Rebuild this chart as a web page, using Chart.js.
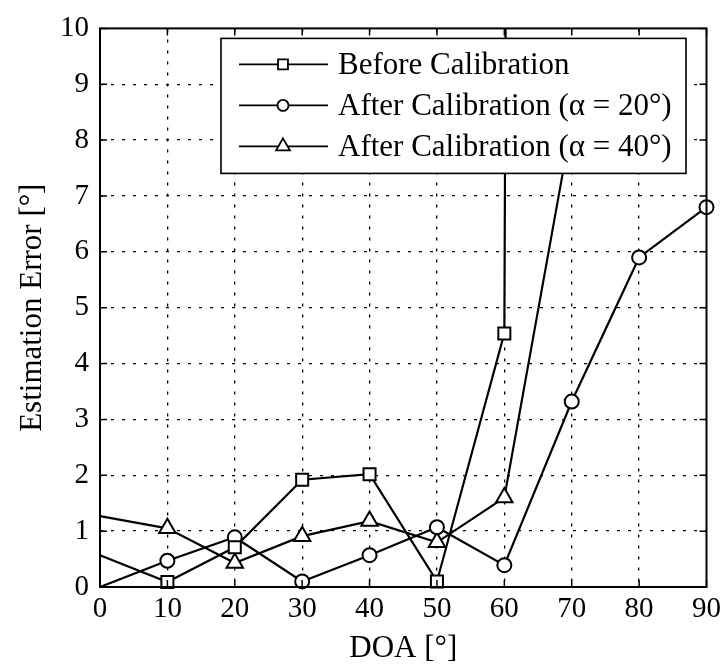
<!DOCTYPE html>
<html>
<head>
<meta charset="utf-8">
<script src="https://cdn.jsdelivr.net/npm/chart.js@4/dist/chart.umd.min.js"></script>
<style>
  html, body { margin: 0; padding: 0; background: #fff; }
</style>
</head>
<body>
<canvas id="chart_canvas" width="726" height="670"></canvas>
<script>
// data
const doa = [0, 10, 20, 30, 40, 50, 60, 70, 80, 90];
const beforeCal = [0.57, 0.09, 0.71, 1.92, 2.02, 0.10, 4.54, 300, null, null];
const after20 = [0.00, 0.47, 0.89, 0.10, 0.57, 1.07, 0.39, 3.32, 5.90, 6.80];
const after40 = [1.27, 1.05, 0.43, 0.91, 1.18, 0.80, 1.60, 8.30, null, null];
const seriesLabels = ["Before Calibration", "After Calibration (\u03b1 = 20\u00b0)", "After Calibration (\u03b1 = 40\u00b0)"];
const markers = ["rect", "circle", "triangle"];
const markerSizes = [8.5, 7, 9.5];

const serif = "'Liberation Serif', 'Times New Roman', serif";
Chart.defaults.font.family = serif;
Chart.defaults.color = "#000";

function makeSet(label, values, i) {
  return {
    label: label,
    data: doa.map((x, k) => ({ x: x, y: values[k] })),
    borderColor: "#000",
    borderWidth: 2.2,
    backgroundColor: "#fff",
    pointStyle: markers[i],
    pointRadius: ctx => ctx.dataIndex === 0 ? 0 : markerSizes[i],
    pointBackgroundColor: "#fff",
    pointBorderColor: "#000",
    pointBorderWidth: 2,
    tension: 0,
    spanGaps: false,
    clip: { left: 10, top: 0, right: 10, bottom: 10 }
  };
}

// frame, inward ticks and the boxed legend inside the plot
const boxLegend = {
  id: "boxLegend",
  afterDatasetsDraw(chart) {
    const ctx = chart.ctx;
    const a = chart.chartArea;
    const xs = chart.scales.x, ys = chart.scales.y;
    ctx.save();
    ctx.strokeStyle = "#000";
    ctx.lineWidth = 1.5;
    ctx.beginPath();
    xs.ticks.forEach(t => {
      const px = xs.getPixelForValue(t.value);
      ctx.moveTo(px, a.bottom); ctx.lineTo(px, a.bottom - 7);
      ctx.moveTo(px, a.top); ctx.lineTo(px, a.top + 7);
    });
    ys.ticks.forEach(t => {
      const py = ys.getPixelForValue(t.value);
      ctx.moveTo(a.left, py); ctx.lineTo(a.left + 7, py);
      ctx.moveTo(a.right, py); ctx.lineTo(a.right - 7, py);
    });
    ctx.stroke();
    ctx.lineWidth = 2;
    ctx.strokeRect(a.left, a.top, a.right - a.left, a.bottom - a.top);

    // legend box
    const bx = a.left + 121, by = a.top + 10, bw = 465, bh = 135;
    ctx.fillStyle = "#fff";
    ctx.fillRect(bx, by, bw, bh);
    ctx.lineWidth = 1.6;
    ctx.strokeRect(bx, by, bw, bh);
    ctx.font = "31px " + serif;
    ctx.textBaseline = "middle";
    chart.data.datasets.forEach((ds, i) => {
      const ry = by + 26 + i * 41;
      ctx.strokeStyle = "#000";
      ctx.lineWidth = 1.8;
      ctx.beginPath();
      ctx.moveTo(bx + 18, ry); ctx.lineTo(bx + 107, ry);
      ctx.stroke();
      ctx.fillStyle = "#fff";
      Chart.helpers.drawPoint(ctx, { pointStyle: markers[i], radius: markerSizes[i] - 1.5, rotation: 0, borderWidth: 1.8 }, bx + 62, ry);
      ctx.fillStyle = "#000";
      ctx.fillText(ds.label, bx + 117, ry + 1);
    });
    ctx.restore();
  }
};

new Chart(document.getElementById("chart_canvas").getContext("2d"), {
  type: "line",
  data: {
    datasets: [
      makeSet(seriesLabels[0], beforeCal, 0),
      makeSet(seriesLabels[1], after20, 1),
      makeSet(seriesLabels[2], after40, 2)
    ]
  },
  options: {
    responsive: false,
    animation: false,
    devicePixelRatio: 1,
    layout: { padding: { top: 17, right: 14, left: 0, bottom: 0 } },
    plugins: { legend: { display: false }, tooltip: { enabled: false } },
    scales: {
      x: {
        type: "linear",
        min: 0, max: 90,
        afterFit: s => { s.height = 83; },
        ticks: { stepSize: 10, padding: 5, font: { size: 29 }, color: "#000" },
        grid: { color: c => (c.tick && (c.tick.value === 0 || c.tick.value === 90)) ? "rgba(0,0,0,0)" : "#000", lineWidth: 1.3, drawTicks: false, tickLength: 0 },
        border: { display: false, dash: [3, 8] },
        title: { display: true, text: "DOA [\u00b0]", font: { size: 31 }, color: "#000", padding: { top: 0, bottom: 3 } }
      },
      y: {
        min: 0, max: 10,
        afterFit: s => { s.width = 100; },
        ticks: { stepSize: 1, padding: 11, font: { size: 29 }, color: "#000" },
        grid: { color: c => (c.tick && (c.tick.value === 0 || c.tick.value === 10)) ? "rgba(0,0,0,0)" : "#000", lineWidth: 1.3, drawTicks: false, tickLength: 0 },
        border: { display: false, dash: [3, 8] },
        title: { display: true, text: "Estimation Error [\u00b0]", font: { size: 31 }, color: "#000", padding: { top: 14, bottom: 0 } }
      }
    }
  },
  plugins: [boxLegend]
});
</script>
</body>
</html>
